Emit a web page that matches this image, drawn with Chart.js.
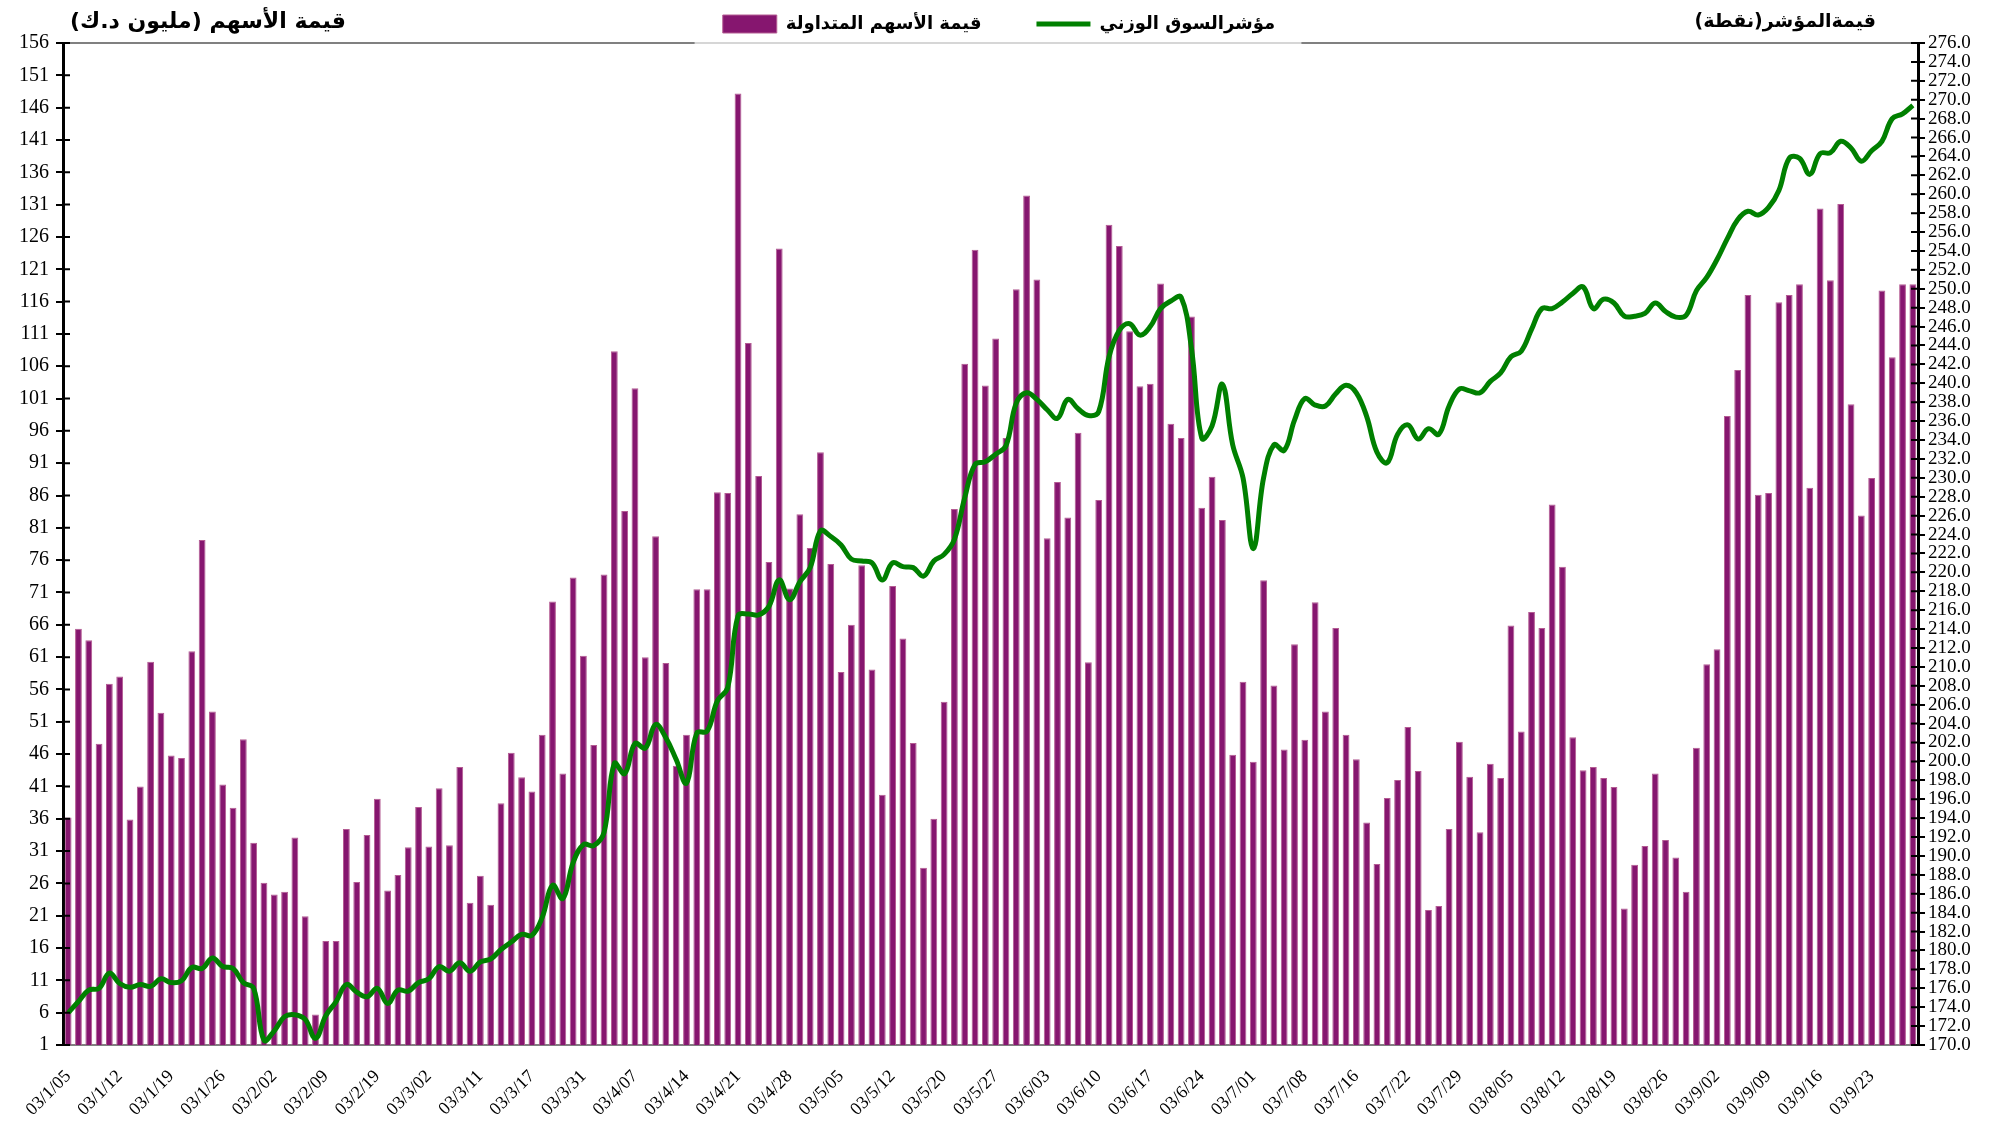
<!DOCTYPE html>
<html>
<head>
<meta charset="utf-8">
<script src="https://cdn.jsdelivr.net/npm/chart.js@4.4.0/dist/chart.umd.min.js"></script>
<style>
  html, body { margin: 0; padding: 0; background: #fff; }
</style>
</head>
<body>
<canvas id="kseChart" width="1998" height="1125"></canvas>
<script>
// one label every 5 trading days
const tickLabels = ['03/1/05', '03/1/12', '03/1/19', '03/1/26', '03/2/02', '03/2/09', '03/2/19', '03/3/02',
  '03/3/11', '03/3/17', '03/3/31', '03/4/07', '03/4/14', '03/4/21', '03/4/28', '03/5/05', '03/5/12', '03/5/20',
  '03/5/27', '03/6/03', '03/6/10', '03/6/17', '03/6/24', '03/7/01', '03/7/08', '03/7/16', '03/7/22', '03/7/29',
  '03/8/05', '03/8/12', '03/8/19', '03/8/26', '03/9/02', '03/9/09', '03/9/16', '03/9/23'];

// traded value, million KD
const tradedValue = [
  36.2, 65.4, 63.6, 47.6, 56.9, 58.0, 35.9, 41.0, 60.3, 52.4, 45.8, 45.4, 61.9, 79.1, 52.6, 41.3, 37.7, 48.3,
  32.3, 26.1, 24.3, 24.7, 33.1, 20.9, 5.7, 17.1, 17.1, 34.4, 26.2, 33.5, 39.1, 24.9, 27.3, 31.6, 37.8, 31.7,
  40.7, 31.9, 44.0, 23.0, 27.2, 22.7, 38.4, 46.2, 42.4, 40.2, 49.0, 69.6, 43.0, 73.3, 61.2, 47.4, 73.8, 108.3,
  83.6, 102.6, 61.0, 79.7, 60.1, 44.2, 49.0, 71.5, 71.5, 86.5, 86.4, 148.2, 109.6, 89.0, 75.7, 124.2, 71.6, 83.1,
  77.9, 92.7, 75.4, 58.7, 66.0, 75.2, 59.1, 39.7, 72.0, 63.9, 47.7, 28.4, 36.0, 54.1, 83.9, 106.4, 124.0, 103.0,
  110.3, 94.9, 117.9, 132.4, 119.4, 79.4, 88.1, 82.6, 95.7, 60.2, 85.3, 127.9, 124.6, 111.4, 102.9, 103.3, 118.8, 97.1,
  94.9, 113.7, 84.1, 88.9, 82.2, 45.9, 57.2, 44.8, 72.9, 56.6, 46.7, 63.0, 48.2, 69.5, 52.6, 65.5, 49.0, 45.2,
  35.4, 29.0, 39.2, 42.0, 50.2, 43.4, 21.9, 22.5, 34.4, 47.9, 42.5, 33.9, 44.5, 42.3, 65.9, 49.5, 68.0, 65.5,
  84.6, 75.0, 48.6, 43.5, 44.0, 42.3, 40.9, 22.1, 28.9, 31.8, 43.0, 32.7, 30.0, 24.7, 47.0, 59.9, 62.2, 98.3,
  105.4, 117.0, 86.1, 86.4, 115.9, 117.0, 118.7, 87.2, 130.4, 119.3, 131.1, 100.1, 82.9, 88.7, 117.7, 107.4, 118.7, 118.7
];

// weighted market index, points
const weightedIndex = [
  173.4, 174.6, 175.8, 176.0, 177.6, 176.5, 176.1, 176.4, 176.2, 177.0, 176.6, 176.8, 178.2, 178.1, 179.2, 178.3, 178.1, 176.6,
  176.0, 170.5, 171.5, 173.0, 173.2, 172.7, 170.7, 173.1, 174.6, 176.4, 175.6, 175.1, 176.0, 174.4, 175.8, 175.7, 176.6, 177.0,
  178.3, 177.8, 178.7, 177.8, 178.8, 179.1, 180.1, 180.9, 181.7, 181.6, 183.5, 186.9, 185.5, 189.3, 191.2, 191.1, 192.5, 199.8,
  198.7, 201.9, 201.4, 203.9, 202.5, 200.2, 197.7, 203.0, 203.2, 206.4, 207.8, 215.4, 215.6, 215.5, 216.4, 219.2, 217.1, 219.0,
  220.5, 224.4, 223.8, 222.9, 221.4, 221.2, 221.0, 219.2, 221.0, 220.6, 220.5, 219.6, 221.2, 221.9, 223.5, 227.9, 231.4, 231.7,
  232.5, 233.4, 237.9, 239.0, 238.3, 237.2, 236.3, 238.3, 237.3, 236.6, 237.0, 242.8, 245.6, 246.3, 245.1, 246.0, 247.9, 248.7,
  249.1, 243.7, 234.2, 235.5, 239.9, 233.5, 230.0, 222.5, 230.0, 233.5, 232.9, 236.1, 238.4, 237.7, 237.6, 238.9, 239.8, 239.0,
  236.5, 232.7, 231.6, 234.6, 235.6, 234.1, 235.2, 234.6, 237.6, 239.4, 239.2, 239.0, 240.2, 241.1, 242.8, 243.4, 245.7, 247.9,
  247.9, 248.6, 249.5, 250.2, 247.9, 248.9, 248.5, 247.1, 247.1, 247.4, 248.5, 247.6, 247.0, 247.2, 249.8, 251.2, 253.1, 255.3,
  257.3, 258.2, 257.8, 258.6, 260.4, 263.8, 263.8, 262.1, 264.3, 264.4, 265.6, 264.9, 263.5, 264.6, 265.6, 268.0, 268.5, 269.4
];

const categories = tradedValue.map((v, i) => (i % 5 === 0 ? tickLabels[i / 5] : ''));

const leftTitle = 'قيمة الأسهم (مليون د.ك)';
const rightTitle = 'قيمةالمؤشر(نقطة)';

const serif = '"Liberation Serif", "Times New Roman", serif';
const arabicFont = '"DejaVu Sans", "Noto Sans", sans-serif';

// frame bits Excel draws that Chart.js doesn't: top border broken by the legend,
// ticks crossing the value axes, and the two axis captions
const framePlugin = {
  id: 'frame',
  afterDraw(chart) {
    const { ctx, chartArea: a, scales } = chart;
    const boxes = chart.legend.legendHitBoxes;
    const lgLeft = Math.min(...boxes.map(b => b.left)) - 28;
    const lgRight = Math.max(...boxes.map(b => b.left + b.width)) + 26;
    ctx.save();
    ctx.lineWidth = 2;
    ctx.strokeStyle = '#808080';
    ctx.beginPath();
    ctx.moveTo(a.left, a.top);
    ctx.lineTo(lgLeft, a.top);
    ctx.moveTo(lgRight, a.top);
    ctx.lineTo(a.right, a.top);
    ctx.stroke();
    ctx.strokeStyle = '#c8c8c8';
    ctx.lineWidth = 1.5;
    ctx.beginPath();
    ctx.moveTo(lgLeft, a.top);
    ctx.lineTo(lgRight, a.top);
    ctx.stroke();

    ctx.strokeStyle = '#000';
    ctx.lineWidth = 2;
    ctx.beginPath();
    scales.y.ticks.forEach((t, i) => {
      const y = scales.y.getPixelForTick(i);
      ctx.moveTo(a.left, y);
      ctx.lineTo(a.left + 7, y);
    });
    scales.y1.ticks.forEach((t, i) => {
      const y = scales.y1.getPixelForTick(i);
      ctx.moveTo(a.right - 7, y);
      ctx.lineTo(a.right, y);
    });
    ctx.stroke();

    ctx.fillStyle = '#000';
    ctx.textBaseline = 'middle';
    ctx.font = 'bold 22px ' + arabicFont;
    ctx.textAlign = 'left';
    ctx.fillText(leftTitle, 70, 22);
    ctx.font = 'bold 19px ' + arabicFont;
    ctx.textAlign = 'right';
    ctx.fillText(rightTitle, 1876, 22);
    ctx.restore();
  }
};

const ctx = document.getElementById('kseChart').getContext('2d');

new Chart(ctx, {
  type: 'bar',
  data: {
    labels: categories,
    datasets: [{
      type: 'bar',
      label: 'قيمة الأسهم المتداولة',
      data: tradedValue,
      yAxisID: 'y',
      backgroundColor: '#86166f',
      borderColor: '#b45c93',
      borderWidth: 1,
      barPercentage: 0.66,
      categoryPercentage: 1,
      pointStyle: 'rect',
      order: 1
    }, {
      type: 'line',
      label: 'مؤشرالسوق الوزني',
      data: weightedIndex,
      yAxisID: 'y1',
      borderColor: '#008000',
      backgroundColor: '#008000',
      borderWidth: 5,
      pointRadius: 0,
      tension: 0.4,
      pointStyle: 'line',
      order: 0
    }]
  },
  options: {
    responsive: false,
    animation: false,
    devicePixelRatio: 1,
    layout: { padding: { top: 5, left: 0, right: 0, bottom: 0 } },
    plugins: {
      tooltip: { enabled: false },
      legend: {
        position: 'top',
        labels: {
          usePointStyle: true,
          pointStyleWidth: 54,
          boxHeight: 18,
          padding: 10,
          color: '#000',
          font: { family: arabicFont, size: 18, weight: 'bold' },
          sort: (a, b) => a.datasetIndex - b.datasetIndex,
          generateLabels(chart) {
            const items = Chart.defaults.plugins.legend.labels.generateLabels(chart);
            items.forEach(it => {
              if (it.datasetIndex === 0) {
                it.text = it.text + '\u2003\u2003\u2002';
              }
            });
            return items;
          }
        }
      }
    },
    scales: {
      x: {
        offset: true,
        grid: { display: false },
        border: { display: true, color: '#808080', width: 2 },
        ticks: {
          autoSkip: false,
          maxRotation: 45,
          minRotation: 45,
          padding: 13,
          color: '#000',
          font: { family: serif, size: 18 }
        },
        afterFit(s) { s.height = 80; }
      },
      y: {
        position: 'left',
        min: 1,
        max: 156,
        grid: { drawOnChartArea: false, drawTicks: true, tickLength: 7, color: '#000', lineWidth: 2 },
        border: { color: '#000', width: 3 },
        ticks: { stepSize: 5, autoSkip: false, padding: 7, color: '#000', font: { family: serif, size: 20 } },
        afterFit(s) { s.width = 63; }
      },
      y1: {
        position: 'right',
        min: 170,
        max: 276,
        grid: { drawOnChartArea: false, drawTicks: true, tickLength: 7, color: '#000', lineWidth: 2 },
        border: { color: '#000', width: 3 },
        ticks: {
          stepSize: 2,
          autoSkip: false,
          padding: 3,
          color: '#000',
          font: { family: serif, size: 19 },
          callback: v => v.toFixed(1)
        },
        afterFit(s) { s.width = 80; }
      }
    }
  },
  plugins: [framePlugin]
});
</script>
</body>
</html>
